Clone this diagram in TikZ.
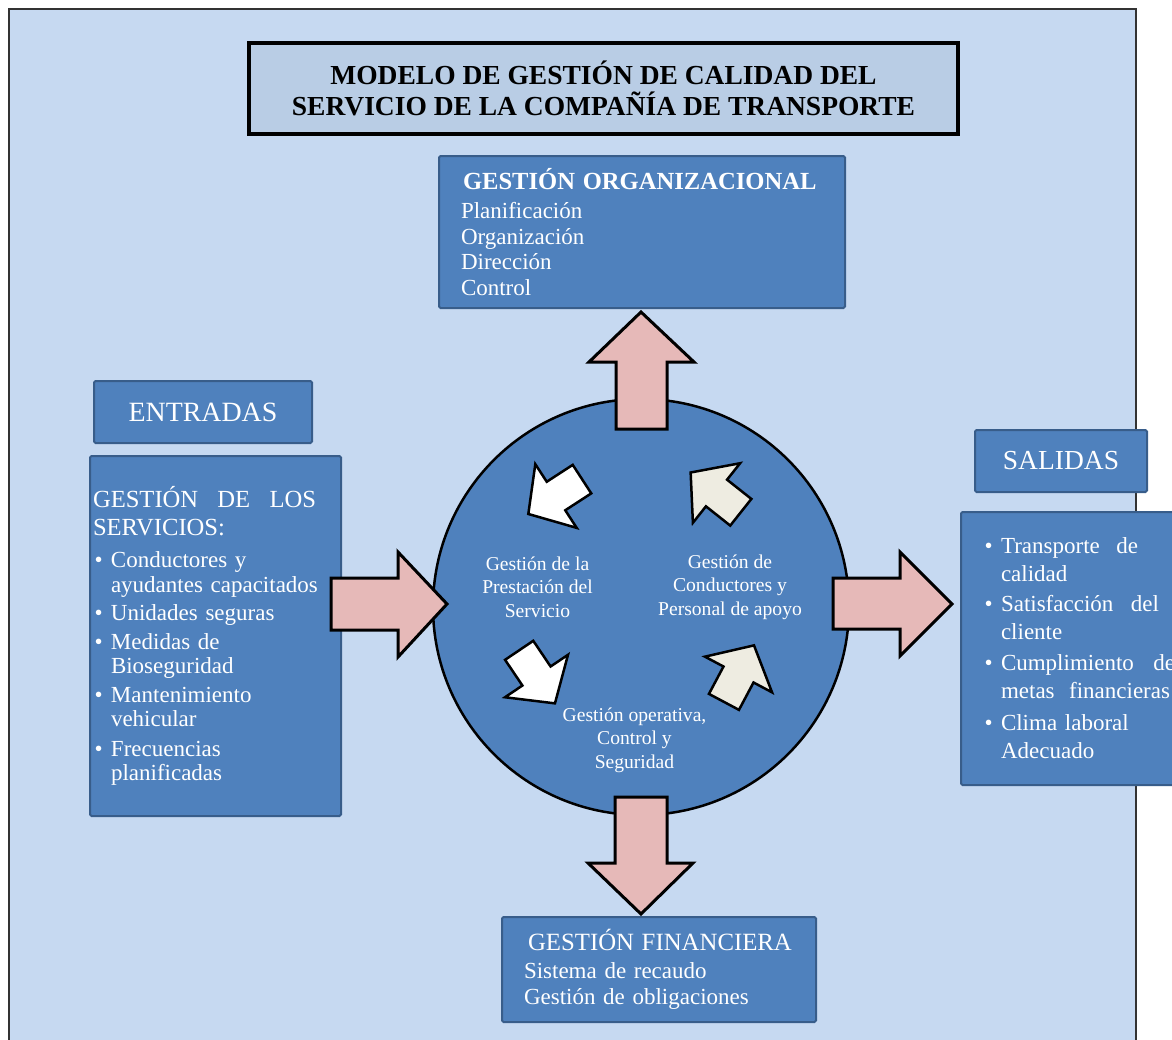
\documentclass[tikz,border=0pt]{standalone}
\usepackage{fontspec}
\setmainfont{Liberation Serif}
\definecolor{bgblue}{HTML}{C6D9F1}
\definecolor{titleblue}{HTML}{B9CDE5}
\definecolor{boxblue}{HTML}{4F81BD}
\definecolor{boxedge}{HTML}{385D8A}
\definecolor{arrowpink}{HTML}{E6B9B8}
\definecolor{cream}{HTML}{EEECE1}
\newcommand{\bulletmark}{\makebox[18pt][l]{\hspace{1.5pt}\textbullet}}
\newcommand{\hangspace}{\hspace*{18pt}}

\begin{document}
\begin{tikzpicture}[x=1pt, y=-1pt,
  bluebox/.style={draw=boxedge, line width=2pt, fill=boxblue, text=white, rounded corners=1.5pt, inner sep=0pt},
  bigarrow/.style={draw=black, line width=3pt, fill=arrowpink, line join=miter},
  turnarrow/.style={draw=black, line width=2.5pt, line join=miter}]
  \useasboundingbox (0,0) rectangle (1172,1039);
  \draw[line width=1.5pt, draw=black!80, fill=bgblue] (9,9) rectangle (1136,1060);
  \node[draw=black, line width=3.5pt, fill=titleblue, minimum width=709pt, minimum height=91pt, align=center, font=\bfseries\fontsize{27.5}{31}\selectfont] (title) at (603.5,88.5) {MODELO DE GESTIÓN DE CALIDAD DEL\\SERVICIO DE LA COMPAÑÍA DE TRANSPORTE};
  \node[bluebox, minimum width=406pt, minimum height=152pt, text width=362pt, align=left, font=\fontsize{23}{25.7}\selectfont] (org) at (642,232) {\hspace*{2pt}{\bfseries\fontsize{24.6}{25.7}\selectfont GESTIÓN ORGANIZACIONAL}\\[3.3pt]Planificación\\Organización\\Dirección\\Control};
  \node[bluebox, minimum width=218pt, minimum height=62pt, font=\fontsize{27.9}{30}\selectfont] (entradas) at (203,412) {ENTRADAS};
  \node[bluebox, minimum width=251pt, minimum height=360pt, text width=245pt, align=left, font=\fontsize{23}{24.5}\selectfont] (inputs) at (215.5,636) {{\fontsize{24.6}{24.5}\selectfont\makebox[223pt]{GESTIÓN\hfill DE\hfill LOS}\\[3.5pt]SERVICIOS:}\\[7.5pt]
    \bulletmark Conductores y\\\hangspace ayudantes capacitados\\[4pt]
    \bulletmark Unidades seguras\\[4pt]
    \bulletmark Medidas de\\\hangspace Bioseguridad\\[4pt]
    \bulletmark Mantenimiento\\\hangspace vehicular\\[5pt]
    \bulletmark Frecuencias\\\hangspace planificadas};
  \node[bluebox, minimum width=172pt, minimum height=62pt, font=\fontsize{27.5}{30}\selectfont] (salidas) at (1061,461) {SALIDAS};
  \node[bluebox, minimum width=240pt, minimum height=273pt, text width=196pt, align=left, font=\fontsize{23}{28}\selectfont] (outputs) at (1081,648.5) {\bulletmark\makebox[137pt]{Transporte\hfill de}\\\hangspace calidad\\[2pt]
    \bulletmark\makebox[158pt]{Satisfacción\hfill del}\\\hangspace cliente\\[3pt]
    \bulletmark\makebox[174pt]{Cumplimiento\hfill de}\\\hangspace\makebox[169pt]{metas\hfill financieras}\\[4pt]
    \bulletmark Clima laboral\\\hangspace Adecuado};
  \node[bluebox, minimum width=314pt, minimum height=105pt, text width=270pt, align=left, font=\fontsize{23}{26}\selectfont] (fin) at (659,969.5) {\hspace*{4pt}{\fontsize{24.8}{26}\selectfont GESTIÓN FINANCIERA}\\[2pt]Sistema de recaudo\\Gestión de obligaciones};
  \node[circle, draw=black, line width=2.5pt, fill=boxblue, minimum size=416pt, inner sep=0pt] (hub) at (641,607) {};
  \node[text=white, align=center, font=\fontsize{19.6}{23.5}\selectfont] (prest) at (537.5,587) {Gestión de la\\Prestación del\\Servicio};
  \node[text=white, align=center, font=\fontsize{19.6}{23.5}\selectfont] (cond) at (730,587) {Gestión de\\Conductores y\\Personal de apoyo};
  \node[text=white, align=center, font=\fontsize{19.6}{23.5}\selectfont] (oper) at (634.5,740) {Gestión operativa,\\Control y\\Seguridad};
  \draw[turnarrow, fill=cream, shift={(716.5,493)}, rotate=141.6] (-31,-17) -- (0,-17) -- (0,-38) -- (33,0) -- (0,38) -- (0,17) -- (-31,17) -- cycle;
  \draw[turnarrow, fill=white, shift={(556,496)}, rotate=213] (-31,-17) -- (0,-17) -- (0,-38) -- (33,0) -- (0,38) -- (0,17) -- (-31,17) -- cycle;
  \draw[turnarrow, fill=white, shift={(536.5,676)}, rotate=-56] (-31,-17) -- (0,-17) -- (0,-38) -- (33,0) -- (0,38) -- (0,17) -- (-31,17) -- cycle;
  \draw[turnarrow, fill=cream, shift={(738.5,674.5)}, rotate=62] (-31,-17) -- (0,-17) -- (0,-38) -- (33,0) -- (0,38) -- (0,17) -- (-31,17) -- cycle;
  \draw[bigarrow] (616,429) -- (616,362) -- (589,362) -- (641,312) -- (694,362) -- (667,362) -- (667,429) -- cycle;
  \draw[bigarrow] (615,797) -- (667,797) -- (667,863) -- (693,863) -- (641,914) -- (588,863) -- (615,863) -- cycle;
  \draw[bigarrow] (331,578) -- (398,578) -- (398,552) -- (447,604) -- (398,657) -- (398,630) -- (331,630) -- cycle;
  \draw[bigarrow] (833,578) -- (900,578) -- (900,552) -- (952,604) -- (900,656) -- (900,629) -- (833,629) -- cycle;
\end{tikzpicture}
\end{document}
